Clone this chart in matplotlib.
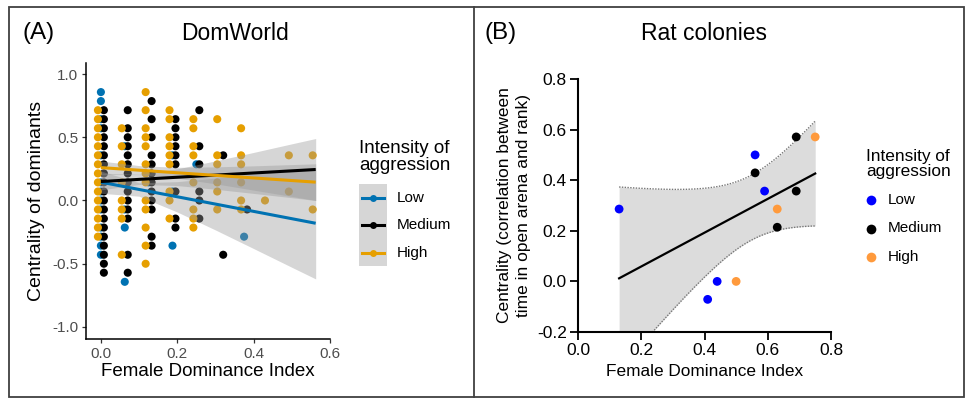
"""Centrality of dominants vs female dominance: DomWorld (A) and rat colonies (B)"""

import numpy as np
import matplotlib
matplotlib.use("Agg")
import matplotlib.pyplot as plt
from matplotlib.patches import Rectangle
from matplotlib.lines import Line2D

plt.rcParams["font.family"] = ["Liberation Sans", "DejaVu Sans"]

W, H = 967, 400

# ---- (A) DomWorld: centrality values per female dominance index
dw_low = {
    0.0: [0.857, 0.786, 0.643, 0.571, 0.357, 0.143, 0.071, 0.0, -0.071,
          -0.214, -0.286, -0.357, -0.429],
    0.0625: [0.429, -0.071, -0.214, -0.643],
    0.125: [0.143],
    0.1875: [0.357, 0.071, -0.357],
    0.25: [0.286],
    0.375: [-0.286],
}
dw_medium = {
    0.0: [0.714, 0.643, 0.571, 0.5, 0.429, 0.357, 0.286, 0.214, 0.143, 0.071,
          0.0, -0.071, -0.143, -0.214, -0.286, -0.357, -0.429, -0.5, -0.571],
    0.0625: [0.714, 0.571, 0.5, 0.429, 0.357, 0.286, 0.214, 0.143, 0.071,
             0.0, -0.071, -0.143, -0.429, -0.571],
    0.125: [0.786, 0.643, 0.5, 0.357, 0.286, 0.214, 0.143, 0.071, 0.0,
            -0.071, -0.286, -0.357],
    0.1875: [0.643, 0.571, 0.5, 0.429, 0.357, 0.286, 0.071, -0.143, -0.214],
    0.25: [0.714, 0.429, 0.286, 0.071, 0.0, -0.143],
    0.3125: [0.357, -0.429],
    0.375: [-0.071],
}
dw_high = {
    0.0: [0.714, 0.643, 0.571, 0.5, 0.429, 0.357, 0.286, 0.214, 0.143, 0.071,
          0.0, -0.071, -0.143, -0.214, -0.286],
    0.0625: [0.571, 0.429, 0.286, 0.143, 0.0, -0.071, -0.143, -0.429],
    0.125: [0.857, 0.714, 0.571, 0.5, 0.429, 0.286, 0.214, 0.143, 0.0,
            -0.071, -0.214, -0.357, -0.5],
    0.1875: [0.714, 0.643, 0.5, 0.429, 0.357, 0.286, 0.071, 0.0, -0.143],
    0.25: [0.643, 0.571, 0.429, 0.357, 0.143, -0.071, -0.143, -0.214],
    0.3125: [0.643, 0.357, 0.286, 0.143, 0.071, -0.071],
    0.375: [0.571, 0.357, 0.286, 0.143, 0.0, -0.071],
    0.4375: [0.0],
    0.5: [0.357, 0.071],
    0.5625: [0.357, -0.071],
}

# linear fits (ends) and 95% bands for each intensity
line_x = [0.0, 0.5625]
low_line = [0.145, -0.18]
medium_line = [0.15, 0.245]
high_line = [0.26, 0.145]

band_x = [0.0, 0.1, 0.2, 0.3, 0.4, 0.5, 0.5625]
low_lo = [0.057, 0.034, -0.091, -0.233, -0.38, -0.528, -0.62]
low_hi = [0.233, 0.14, 0.149, 0.177, 0.208, 0.24, 0.26]
medium_lo = [0.084, 0.127, 0.118, 0.089, 0.056, 0.022, 0.0]
medium_hi = [0.216, 0.207, 0.25, 0.313, 0.38, 0.448, 0.49]
high_lo = [0.208, 0.204, 0.176, 0.132, 0.082, 0.032, 0.0]
high_hi = [0.312, 0.276, 0.262, 0.266, 0.274, 0.284, 0.29]

levels = ["Low", "Medium", "High"]
dw_colors = ["#0072B2", "#000000", "#E69F00"]

# ---- (B) rat colonies
rat_low_x = [0.13, 0.41, 0.44, 0.56, 0.59]
rat_low_y = [0.286, -0.071, 0.0, 0.5, 0.357]
rat_medium_x = [0.56, 0.63, 0.69, 0.69]
rat_medium_y = [0.429, 0.214, 0.357, 0.571]
rat_high_x = [0.50, 0.63, 0.75]
rat_high_y = [0.0, 0.286, 0.571]
rat_colors = ["#0000FF", "#000000", "#FF9A3C"]


def fig_rect(left, top, right, bottom):
    """Pixel box -> figure fraction [l, b, w, h]"""
    return [left / W, 1 - bottom / H, (right - left) / W, (bottom - top) / H]


def fx(x):
    return x / W


def fy(y):
    return 1 - y / H


fig = plt.figure(figsize=(W / 100, H / 100), dpi=100)

# ======================= panel A =======================
ax = fig.add_axes(fig_rect(86, 63, 330, 339))
dodge = {"Low": 0.0, "Medium": 0.0078, "High": -0.0078}
for name, pts, col in [("Low", dw_low, dw_colors[0]),
                       ("Medium", dw_medium, dw_colors[1]),
                       ("High", dw_high, dw_colors[2])]:
    xs = [x + dodge[name] for x, ys in pts.items() for _ in ys]
    ys = [y for x, yl in pts.items() for y in yl]
    ax.scatter(xs, ys, s=34, color=col, edgecolors="none", zorder=2)

for lo, hi in [(low_lo, low_hi), (medium_lo, medium_hi), (high_lo, high_hi)]:
    ax.fill_between(band_x, lo, hi, color="#999999", alpha=0.4, lw=0, zorder=3)
for line, col in zip([low_line, medium_line, high_line], dw_colors):
    ax.plot(line_x, line, color=col, lw=2.2, zorder=4, solid_capstyle="butt")

ax.set_xlim(-0.039, 0.599)
ax.set_ylim(-1.095, 1.087)
ax.set_xticks([0.0, 0.2, 0.4, 0.6])
ax.set_yticks([-1.0, -0.5, 0.0, 0.5, 1.0])
ax.xaxis.set_major_formatter(matplotlib.ticker.FormatStrFormatter("%.1f"))
ax.yaxis.set_major_formatter(matplotlib.ticker.FormatStrFormatter("%.1f"))
for s in ["top", "right"]:
    ax.spines[s].set_visible(False)
for s in ["left", "bottom"]:
    ax.spines[s].set_linewidth(1.1)
ax.tick_params(length=3, width=0.9, color="#333333", labelsize=11,
               labelcolor="#4D4D4D", pad=2.5)
ax.set_xlabel("Female Dominance Index", fontsize=13.5, labelpad=2)
ax.set_ylabel("Centrality of dominants", fontsize=14, labelpad=5)

fig.text(fx(23), fy(33), "(A)", fontsize=17.5, va="center", ha="left")
fig.text(fx(235), fy(33), "DomWorld", fontsize=16.5, va="center", ha="center")

# legend A
fig.text(fx(359), fy(157), "Intensity of\naggression", fontsize=13.5,
         va="center", ha="left", linespacing=1.0)
fig.add_artist(Rectangle((fx(359), fy(266)), (387 - 359) / W, (266 - 184) / H,
                         transform=fig.transFigure, facecolor="#D6D6D6",
                         edgecolor="none"))
for i, (name, col) in enumerate(zip(levels, dw_colors)):
    yk = 198 + i * 27.3
    fig.add_artist(Line2D([fx(362), fx(384)], [fy(yk), fy(yk)], color=col,
                          lw=2.2, transform=fig.transFigure))
    fig.add_artist(Line2D([fx(373)], [fy(yk)], color=col, marker="o",
                          markersize=5, markeredgewidth=0,
                          transform=fig.transFigure))
    fig.text(fx(397), fy(yk), name, fontsize=11, va="center", ha="left")

# ======================= panel B =======================
bx = fig.add_axes(fig_rect(578, 79, 831, 332))
rx = np.array(rat_low_x + rat_medium_x + rat_high_x)
ry = np.array(rat_low_y + rat_medium_y + rat_high_y)
slope, intercept = np.polyfit(rx, ry, 1)
n = len(rx)
resid = ry - (intercept + slope * rx)
s_err = np.sqrt(np.sum(resid ** 2) / (n - 2))
t_crit = 2.228  # t(0.975, df=10)
gx = np.linspace(rx.min(), rx.max(), 200)
gy = intercept + slope * gx
half = t_crit * s_err * np.sqrt(1 / n + (gx - rx.mean()) ** 2
                                / np.sum((rx - rx.mean()) ** 2))
bx.fill_between(gx, gy - half, gy + half, color="#DCDCDC", lw=0, zorder=1)
bx.plot(gx, gy - half, color="#777777", lw=1.0, ls=(0, (1, 1)), zorder=2)
bx.plot(gx, gy + half, color="#777777", lw=1.0, ls=(0, (1, 1)), zorder=2)
bx.plot(gx, gy, color="black", lw=1.6, zorder=3)

for xs, ys, col in [(rat_low_x, rat_low_y, rat_colors[0]),
                    (rat_medium_x, rat_medium_y, rat_colors[1]),
                    (rat_high_x, rat_high_y, rat_colors[2])]:
    bx.scatter(xs, ys, s=40, color=col, edgecolors="none", zorder=4)

bx.set_xlim(0, 0.8)
bx.set_ylim(-0.2, 0.8)
bx.set_xticks([0.0, 0.2, 0.4, 0.6, 0.8])
bx.set_yticks([-0.2, 0.0, 0.2, 0.4, 0.6, 0.8])
bx.xaxis.set_major_formatter(matplotlib.ticker.FormatStrFormatter("%.1f"))
bx.yaxis.set_major_formatter(matplotlib.ticker.FormatStrFormatter("%.1f"))
for s in ["top", "right"]:
    bx.spines[s].set_visible(False)
for s in ["left", "bottom"]:
    bx.spines[s].set_linewidth(1.5)
bx.tick_params(length=5.5, width=1.3, labelsize=12.5, pad=2.5)
bx.set_xlabel("Female Dominance Index", fontsize=12.4, labelpad=4)
bx.set_ylabel("Centrality (correlation between\ntime in open arena and rank)",
              fontsize=12.5, labelpad=4, linespacing=1.35)

fig.text(fx(485), fy(33), "(B)", fontsize=17.5, va="center", ha="left")
fig.text(fx(704), fy(33), "Rat colonies", fontsize=16.5, va="center",
         ha="center")

# legend B
fig.text(fx(866), fy(164), "Intensity of\naggression", fontsize=12.4,
         va="center", ha="left", linespacing=1.05)
for i, (name, col) in enumerate(zip(levels, rat_colors)):
    yk = 200 + i * 28.5
    fig.add_artist(Line2D([fx(871)], [fy(yk)], color=col, marker="o",
                          markersize=7, markeredgewidth=0, ls="none",
                          transform=fig.transFigure))
    fig.text(fx(888), fy(yk), name, fontsize=11, va="center", ha="left")

# panel frames
fig.add_artist(Rectangle((fx(9), fy(397)), (964 - 9) / W, (397 - 7) / H,
                         transform=fig.transFigure, fill=False,
                         edgecolor="#404040", lw=1.3))
fig.add_artist(Line2D([fx(474), fx(474)], [fy(7), fy(397)], color="#404040",
                      lw=1.3, transform=fig.transFigure))

fig.savefig("out.png", dpi=100)
